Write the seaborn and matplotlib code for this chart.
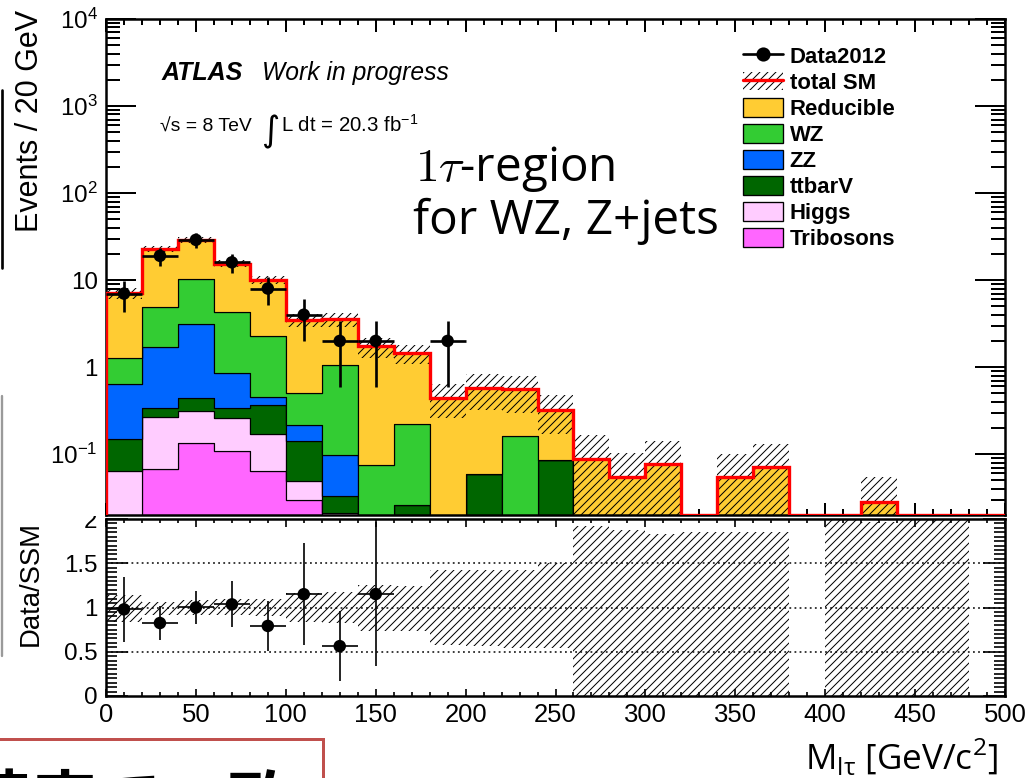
import numpy as np
import pandas as pd
import matplotlib
matplotlib.use("Agg")
import matplotlib.pyplot as plt
import seaborn as sns
from matplotlib.patches import Patch, Rectangle
from matplotlib.lines import Line2D
from matplotlib.ticker import FixedLocator, FixedFormatter, MultipleLocator, LogLocator, NullFormatter

# ---- binning: 20 GeV bins from 0 to 500 GeV ----
edges = np.arange(0, 520, 20)
centers = edges[:-1] + 10

# ---- expected events per process ----
reducible = [5.86, 18.1, 18.6, 11.2, 7.81, 2.97, 2.50, 1.66, 1.23, 0.445, 0.521, 0.395, 0.233,
             0.087, 0.055, 0.078, 0.0, 0.055, 0.071, 0.0, 0.0, 0.028, 0.0, 0.0, 0.0]
wz = [0.655, 3.26, 7.28, 3.39, 1.84, 0.294, 0.953, 0.076, 0.198, 0.0, 0.0, 0.161, 0.0,
      0, 0, 0, 0, 0, 0, 0, 0, 0, 0, 0, 0]
zz = [0.485, 1.34, 2.68, 0.523, 0.090, 0.073, 0.064, 0.0, 0.0, 0, 0, 0, 0,
      0, 0, 0, 0, 0, 0, 0, 0, 0, 0, 0, 0]
ttbarv = [0.086, 0.075, 0.125, 0.080, 0.195, 0.092, 0.012, 0.0, 0.026, 0.0, 0.059, 0.0, 0.085,
          0, 0, 0, 0, 0, 0, 0, 0, 0, 0, 0, 0]
higgs = [0.064, 0.199, 0.178, 0.152, 0.105, 0.019, 0.021, 0, 0, 0, 0, 0, 0,
         0, 0, 0, 0, 0, 0, 0, 0, 0, 0, 0, 0]
tribosons = [0.0, 0.068, 0.135, 0.110, 0.064, 0.030, 0, 0, 0, 0, 0, 0, 0,
             0, 0, 0, 0, 0, 0, 0, 0, 0, 0, 0, 0]

# ---- observed data ----
data2012 = [7, 19, 29, 16, 8, 4, 2, 2, 0, 2, 0, 0, 0, 0, 0, 0, 0, 0, 0, 0, 0, 0, 0, 0, 0]

# ---- relative uncertainty of the total SM prediction (up / down) ----
band_up = [0.14, 0.06, 0.09, 0.10, 0.10, 0.16, 0.17, 0.25, 0.24, 0.42, 0.42, 0.42, 0.50,
           0.92, 0.88, 0.83, 0.85, 0.85, 0.85, 0.0, 1.0, 0.97, 1.0, 1.0, 0.0]
band_dn = [0.16, 0.08, 0.08, 0.09, 0.10, 0.16, 0.18, 0.26, 0.26, 0.42, 0.44, 0.46, 0.46,
           1.0, 1.0, 1.0, 1.0, 1.0, 1.0, 0.0, 1.0, 1.0, 1.0, 1.0, 0.0]

processes = ["Reducible", "WZ", "ZZ", "ttbarV", "Higgs", "Tribosons"]
process_values = [reducible, wz, zz, ttbarv, higgs, tribosons]
colors = {"Reducible": "#FFCC33", "WZ": "#33CC33", "ZZ": "#0066FF",
          "ttbarV": "#006600", "Higgs": "#FFCCFF", "Tribosons": "#FF66FF"}

W, H, DPI = 1029, 778, 120
YMIN, YMAX = 0.02, 1e4
HATCH = "/////"

sns.set_theme(style="ticks")
plt.rcParams.update({
    "font.family": ["Liberation Sans", "DejaVu Sans"],
    "hatch.linewidth": 0.6,
    "axes.linewidth": 1.5,
    "axes.edgecolor": "black",
    "xtick.color": "black",
    "ytick.color": "black",
    "text.color": "black",
})

fig = plt.figure(figsize=(W / DPI, H / DPI), dpi=DPI)


def fx(px):
    return px / W


def fy(py):
    return 1 - py / H


rax = fig.add_axes([fx(106), fy(696), fx(1005) - fx(106), fy(519) - fy(696)])
ax = fig.add_axes([fx(106), fy(515), fx(1005) - fx(106), fy(19) - fy(515)])

# ---- stacked backgrounds ----
df = pd.DataFrame({
    "mass": np.tile(centers, len(processes)),
    "events": np.concatenate([np.asarray(v, float) for v in process_values]),
    "process": np.repeat(processes, len(centers)),
})
ax.set_yscale("log")
sns.histplot(data=df, x="mass", weights="events", hue="process", hue_order=processes,
             palette=colors, binwidth=20, binrange=(0, 500), multiple="stack",
             element="step", fill=True, alpha=1, edgecolor="black", linewidth=0.7,
             legend=False, ax=ax)

total = np.sum([np.asarray(v, float) for v in process_values], axis=0)
up = np.asarray(band_up)
dn = np.asarray(band_dn)

# uncertainty band on the total prediction
ax.stairs(total * (1 + up), edges, baseline=total * (1 - dn), fill=True, facecolor="none",
          edgecolor="black", hatch=HATCH, linewidth=0, zorder=4)
# total SM line
ax.stairs(np.maximum(total, YMIN), edges, color="#FF0000", linewidth=2.0, zorder=5)

# ---- data points ----
data = np.asarray(data2012, float)
m = data > 0
ax.errorbar(centers[m], data[m], xerr=10, yerr=np.sqrt(data[m]), fmt="none",
            ecolor="black", elinewidth=1.6, capsize=0, zorder=6)
sns.scatterplot(x=centers[m], y=data[m], color="black", s=56, edgecolor="none",
                ax=ax, zorder=7, legend=False)

ax.set_xlim(0, 500)
ax.set_ylim(YMIN, YMAX)
ax.set_xlabel("")
ax.set_ylabel("")

# ---- ratio panel ----
ratio_band_hi = 1 + up
ratio_band_lo = 1 - dn
rax.stairs(ratio_band_hi, edges, baseline=ratio_band_lo, fill=True, facecolor="none",
           edgecolor="black", hatch=HATCH, linewidth=0, zorder=2)
for yl in (0.5, 1.0, 1.5):
    rax.axhline(yl, color="black", linestyle=(0, (1.2, 2.2)), linewidth=0.9, zorder=1)

with np.errstate(divide="ignore", invalid="ignore"):
    ratio = np.where(total > 0, data / total, np.nan)
    ratio_err = np.where(total > 0, np.sqrt(data) / total, np.nan)
mr = (data > 0) & (ratio <= 2)
rax.errorbar(centers[mr], ratio[mr], xerr=10, yerr=ratio_err[mr], fmt="none",
             ecolor="black", elinewidth=1.0, capsize=0, zorder=6)
sns.scatterplot(x=centers[mr], y=ratio[mr], color="black", s=56, edgecolor="none",
                ax=rax, zorder=7, legend=False)
rax.set_xlim(0, 500)
rax.set_ylim(0, 2)

# ---- ticks ----
ax.yaxis.set_major_locator(FixedLocator([0.1, 1, 10, 100, 1000, 10000]))
ax.yaxis.set_major_formatter(FixedFormatter([
    r"$\mathregular{10^{-1}}$", "1", "10", r"$\mathregular{10^{2}}$",
    r"$\mathregular{10^{3}}$", r"$\mathregular{10^{4}}$"]))
ax.yaxis.set_minor_locator(LogLocator(base=10, subs=np.arange(2, 10), numticks=20))
ax.yaxis.set_minor_formatter(NullFormatter())
ax.xaxis.set_major_locator(MultipleLocator(50))
ax.xaxis.set_minor_locator(MultipleLocator(10))
ax.tick_params(axis="both", which="both", direction="in", top=True, right=True,
               labelbottom=False, width=1.2)
ax.tick_params(axis="y", which="major", length=18, labelsize=14.5, pad=5)
ax.tick_params(axis="y", which="minor", length=8.5)
ax.tick_params(axis="x", which="major", length=7.5)
ax.tick_params(axis="x", which="minor", length=3.6)

rax.yaxis.set_major_locator(FixedLocator([0, 0.5, 1, 1.5, 2]))
rax.yaxis.set_major_formatter(FixedFormatter(["0", "0.5", "1", "1.5", "2"]))
rax.yaxis.set_minor_locator(MultipleLocator(0.05))
rax.xaxis.set_major_locator(MultipleLocator(50))
rax.xaxis.set_minor_locator(MultipleLocator(10))
rax.tick_params(axis="both", which="both", direction="in", top=True, right=True, width=1.0)
rax.tick_params(axis="y", which="major", length=13, labelsize=14.5, pad=5)
rax.tick_params(axis="y", which="minor", length=6.5)
rax.tick_params(axis="x", which="major", length=4.5, labelsize=15.4, pad=4)
rax.tick_params(axis="x", which="minor", length=2.5)
rax.set_xlabel("")
rax.set_ylabel("")

# the upper pad overlaps the top label of the ratio axis
fig.add_artist(Rectangle((fx(60), fy(516)), fx(105) - fx(60), fy(500) - fy(516),
                         transform=fig.transFigure, facecolor="white", edgecolor="none",
                         zorder=1))

# ---- axis titles ----
fig.text(fx(30), fy(10), "Events / 20 GeV", rotation=90, ha="center", va="top", fontsize=18.3)
fig.text(fx(31), fy(584), "Data/SSM", rotation=90, ha="center", va="center", fontsize=16.5)
fig.text(fx(998), fy(770), r"M$_{\mathregular{l\tau}}$ [GeV/c$^{\mathregular{2}}$]",
         ha="right", va="baseline", fontsize=21, family=["Open Sans", "DejaVu Sans"])

# ---- labels inside the plot ----
fig.text(fx(162), fy(80), "ATLAS", fontsize=15, fontweight="bold", fontstyle="italic",
         va="baseline")
fig.text(fx(262), fy(80), "Work in progress", fontsize=14.8, fontstyle="italic", va="baseline")
fig.text(fx(160), fy(132), "\u221as = 8 TeV", fontsize=11.6, va="baseline")
fig.text(fx(261), fy(141), "\u222b", fontsize=21, va="baseline", family=["DejaVu Sans"])
fig.text(fx(281), fy(132), r"L dt = 20.3 fb$^{\mathregular{-1}}$", fontsize=12.2, va="baseline")

fig.text(fx(415), fy(181), r"$1\tau$-region", fontsize=28.6, va="baseline",
         family=["Open Sans", "DejaVu Sans"], math_fontfamily="cm")
fig.text(fx(413), fy(234), "for WZ, Z+jets", fontsize=28.6, va="baseline",
         family=["Open Sans", "DejaVu Sans"])

# ---- legend ----
handles = [
    Line2D([], [], color="black", marker="o", markersize=7.5, linewidth=1.6),
    (Patch(facecolor="none", edgecolor="black", hatch=HATCH, linewidth=0),
     Line2D([], [], color="#FF0000", linewidth=2.0)),
]
labels = ["Data2012", "total SM"]
for p in processes:
    handles.append(Patch(facecolor=colors[p], edgecolor="black", linewidth=0.8))
    labels.append(p)
fig.legend(handles, labels, loc="upper left", bbox_to_anchor=(fx(743), fy(46)),
           frameon=False, prop={"weight": "bold", "size": 13.3}, handlelength=1.8,
           handleheight=0.9, labelspacing=0.19, handletextpad=0.3, borderpad=0,
           borderaxespad=0)

# ---- surrounding slide elements ----
fig.add_artist(Line2D([fx(1.5), fx(1.5)], [fy(90), fy(268)], color="black", linewidth=1.6))
fig.add_artist(Line2D([fx(1.5), fx(1.5)], [fy(396), fy(656)], color="#9a9a9a", linewidth=1.4))
fig.add_artist(Rectangle((fx(-10), fy(800)), fx(323) - fx(-10), fy(739) - fy(800),
                         transform=fig.transFigure, facecolor="white", edgecolor="#C0504D",
                         linewidth=1.8, clip_on=False))
fig.text(fx(-35), fy(825), "精度で一致", fontsize=39.6, fontweight="bold", va="baseline",
         family=["Noto Sans CJK JP", "DejaVu Sans"])

fig.savefig("out.png", dpi=DPI)
